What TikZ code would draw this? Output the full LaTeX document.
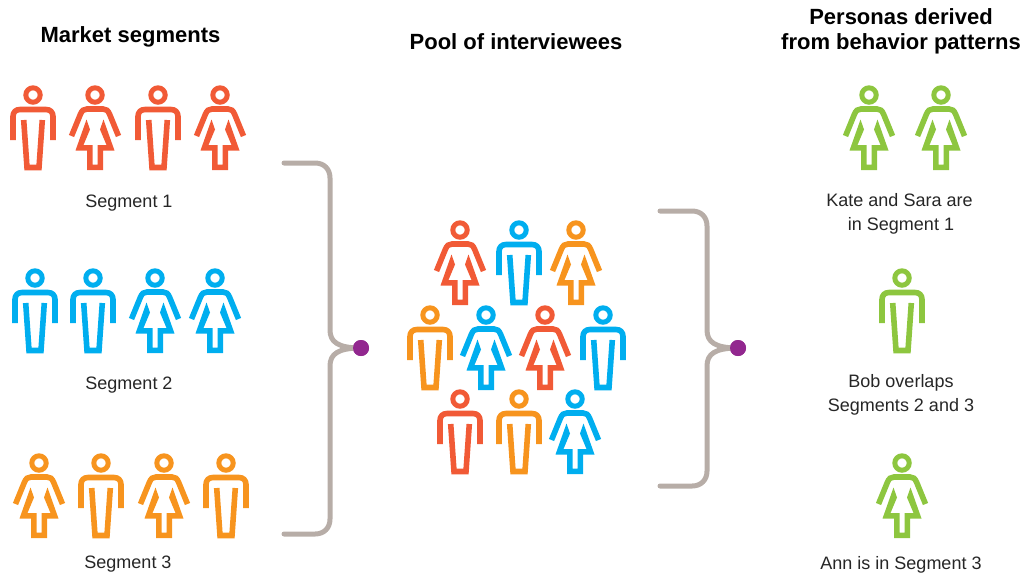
\documentclass[tikz,border=0pt]{standalone}
\usepackage{fontspec}
\setmainfont{Liberation Sans}
\definecolor{cred}{HTML}{F15A36}
\definecolor{cblue}{HTML}{00AEEF}
\definecolor{corange}{HTML}{F7941E}
\definecolor{cgreen}{HTML}{8DC63F}
\definecolor{cbrace}{HTML}{B7ADA7}
\definecolor{cdot}{HTML}{92278F}
\tikzset{
  x=1pt,y=-1pt,
  figure/.style={line width=5.6pt,miter limit=10,line join=miter,line cap=butt},
  man/.pic={
    \draw[figure,line width=5pt] (0,0) circle (7.2);
    \draw[figure] (-20,45) -- (-20,21.5) .. controls (-20,17) and (-17,14.5) .. (-13,14.5) -- (13,14.5) .. controls (17,14.5) and (20,17) .. (20,21.5) -- (20,45);
    \draw[figure] (-9.3,25) -- (-6,72.5) -- (6,72.5) -- (9.3,25);
  },
  woman/.pic={
    \draw[figure,line width=5pt] (0,0) circle (7.2);
    \draw[figure] (-23.5,41) -- (-14.5,19) .. controls (-13,15.5) and (-11,14) .. (-8,14) -- (8,14) .. controls (11,14) and (13,15.5) .. (14.5,19) -- (23.5,41);
    \fill (-8.5,24.5) -- (-19.5,55.5) -- (-8,55.5) -- (-8,75) -- (8,75) -- (8,55.5) -- (19.5,55.5) -- (8.5,24.5)
      -- (5,34.5) -- (11.5,50) -- (2.5,50) -- (2.5,69.5) -- (-2.5,69.5) -- (-2.5,50) -- (-11.5,50) -- (-5,34.5) -- cycle;
  },
  brace/.style={draw=cbrace,line width=5pt,line cap=round},
  dotnode/.style={circle,fill=cdot,inner sep=0pt,minimum size=16pt},
  head/.style={font=\bfseries\fontsize{22}{25}\selectfont,align=center,inner sep=0pt,xscale=1},
  lab/.style={font=\fontsize{18}{24.5}\selectfont,align=center,inner sep=0pt,text=black!85},
}
\begin{document}
\begin{tikzpicture}
\useasboundingbox (0,0) rectangle (1024,574);
% Segment 1
\pic[color=cred] at (33,95) {man};
\pic[color=cred] at (95,95) {woman};
\pic[color=cred] at (158,95) {man};
\pic[color=cred] at (220,95) {woman};
% Segment 2
\pic[color=cblue] at (35,278) {man};
\pic[color=cblue] at (93,278) {man};
\pic[color=cblue] at (155,278) {woman};
\pic[color=cblue] at (215,278) {woman};
% Segment 3
\pic[color=corange] at (39,463) {woman};
\pic[color=corange] at (101,463) {man};
\pic[color=corange] at (164,463) {woman};
\pic[color=corange] at (226,463) {man};
% Pool
\pic[color=cred] at (460,230) {woman};
\pic[color=cblue] at (519,230) {man};
\pic[color=corange] at (576,230) {woman};
\pic[color=corange] at (430,315) {man};
\pic[color=cblue] at (486,315) {woman};
\pic[color=cred] at (545,315) {woman};
\pic[color=cblue] at (603,315) {man};
\pic[color=cred] at (460,399) {man};
\pic[color=corange] at (519,399) {man};
\pic[color=cblue] at (575,399) {woman};
% Personas
\pic[color=cgreen] at (869,95) {woman};
\pic[color=cgreen] at (941,95) {woman};
\pic[color=cgreen] at (902,278) {man};
\pic[color=cgreen] at (902,463) {woman};
% Titles
\node[head] (t1) at (130.5,37) {Market segments};
\node[head] (t2) at (516,42) {Pool of interviewees};
\node[head] (t3) at (901,31.5) {Personas derived\\from behavior patterns};
% Labels
\node[lab] (s1) at (129,203) {Segment 1};
\node[lab] (s2) at (129,385) {Segment 2};
\node[lab] (s3) at (128,564) {Segment 3};
\node[lab] (p1) at (899.5,214) {Kate and Sara are\\\hspace*{3pt}in Segment 1};
\node[lab] (p2) at (901,395) {Bob overlaps\\Segments 2 and 3};
\node[lab] (p3) at (901,565) {Ann is in Segment 3};
% Brackets
\node[dotnode] (d1) at (361,348) {};
\node[dotnode] (d2) at (738,348) {};
\coordinate (a1) at (284,163);
\coordinate (b1) at (284,534);
\coordinate (a2) at (660,211);
\coordinate (b2) at (660,486);
\draw[brace] (a1) -- (315,163) .. controls (324,163) and (330,169) .. (330,178)
  -- (330,330) .. controls (330,342) and (338,348) .. (d1.center);
\draw[brace] (b1) -- (315,534) .. controls (324,534) and (330,528) .. (330,519)
  -- (330,366) .. controls (330,354) and (338,348) .. (d1.center);
\draw[brace] (a2) -- (692,211) .. controls (701,211) and (707,217) .. (707,226)
  -- (707,330) .. controls (707,342) and (715,348) .. (d2.center);
\draw[brace] (b2) -- (692,486) .. controls (701,486) and (707,480) .. (707,471)
  -- (707,366) .. controls (707,354) and (715,348) .. (d2.center);
\node[dotnode] (d1top) at (d1) {};
\node[dotnode] (d2top) at (d2) {};
\end{tikzpicture}
\end{document}
